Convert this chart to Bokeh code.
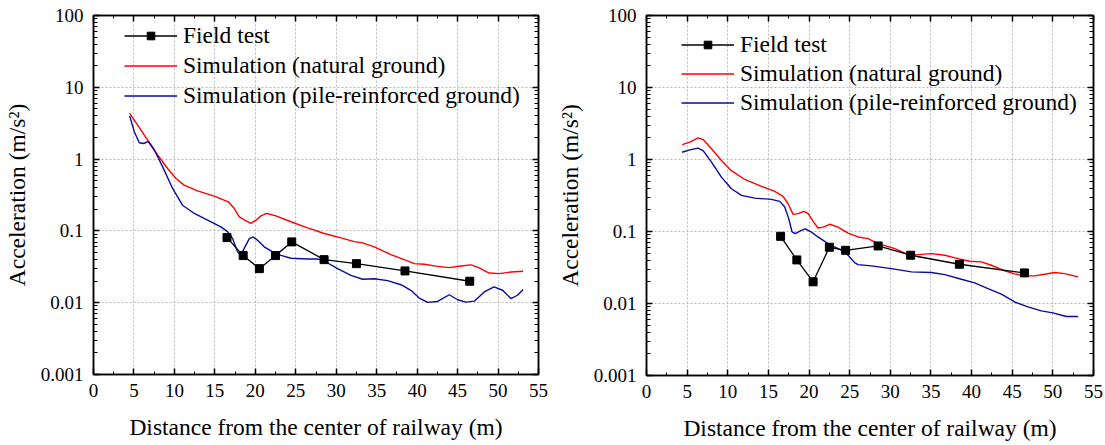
from bokeh.plotting import figure
from bokeh.layouts import row
from bokeh.models import (FixedTicker, LinearAxis, LogAxis, Legend, LegendItem,
                          CustomJSTickFormatter, Range1d)
from bokeh.embed import file_html
from bokeh.resources import INLINE

FONT = "Liberation Serif"

# ---------------- data ----------------
x_ticks = [0, 5, 10, 15, 20, 25, 30, 35, 40, 45, 50, 55]
y_ticks = [0.001, 0.01, 0.1, 1, 10, 100]

field_x = [16.5, 18.5, 20.5, 22.5, 24.5, 28.5, 32.5, 38.5, 46.5]

# left panel
field_left = [0.0807, 0.0453, 0.0298, 0.0453, 0.0703, 0.0398, 0.035, 0.0277, 0.0199]
natural_left_x = [4.47, 5.46, 6.69, 7.93, 9.16, 10.2, 11.2, 12.87, 14.93, 16.66,
                  17.4, 18.02, 18.85, 19.46, 20.08, 20.7, 21.4, 22.55, 24.4, 26.46,
                  28.52, 30.58, 32.23, 33.26, 34.7, 36.76, 38.4, 39.65, 40.88, 42.53,
                  43.97, 45.41, 46.65, 47.67, 48.9, 50.15, 51.6, 53.1]
natural_left_y = [4.34, 2.98, 1.84, 1.14, 0.74, 0.537, 0.434, 0.361, 0.305, 0.254,
                  0.205, 0.157, 0.138, 0.127, 0.141, 0.162, 0.175, 0.162, 0.134, 0.110,
                  0.092, 0.080, 0.071, 0.068, 0.060, 0.0468, 0.0398, 0.035, 0.0343, 0.0321,
                  0.0308, 0.0325, 0.0336, 0.0305, 0.0259, 0.0254, 0.0268, 0.0274]
pile_left_x = [4.47, 5.04, 5.66, 6.2, 6.78, 7.52, 8.55, 9.78, 11.0, 12.46,
               14.1, 15.75, 16.6, 17.2, 17.81, 18.2, 18.72, 19.26, 19.75, 20.28,
               21.1, 22.14, 23.17, 24.4, 26.46, 27.7, 28.73, 30.17, 31.82, 33.26,
               34.7, 36.35, 38.0, 39.23, 40.26, 41.3, 42.53, 43.97, 45.0, 46.03,
               47.06, 48.3, 49.5, 50.56, 51.6, 52.4, 53.1]
pile_left_y = [3.98, 2.41, 1.69, 1.65, 1.76, 1.34, 0.78, 0.39, 0.228, 0.175,
               0.141, 0.114, 0.097, 0.078, 0.051, 0.0457, 0.060, 0.078, 0.0824, 0.074,
               0.060, 0.051, 0.0457, 0.0416, 0.0407, 0.0407, 0.0369, 0.0298, 0.024, 0.0212,
               0.0216, 0.0203, 0.0178, 0.0149, 0.0116, 0.0101, 0.0104, 0.0129, 0.011, 0.0102,
               0.0105, 0.0141, 0.0166, 0.0149, 0.0114, 0.0127, 0.0153]

# right panel
field_right = [0.0857, 0.0403, 0.020, 0.0604, 0.0548, 0.063, 0.0468, 0.0351, 0.0266]
natural_right_x = [4.38, 5.33, 6.35, 6.97, 8.0, 9.22, 10.45, 12.09, 14.14, 15.78,
                   16.8, 17.42, 18.04, 18.65, 19.35, 19.9, 20.5, 21.1, 21.73, 22.55,
                   23.57, 24.8, 26.03, 27.26, 28.49, 30.55, 32.18, 33.4, 35.06, 36.7,
                   38.33, 39.77, 41.2, 42.43, 43.86, 45.3, 46.53, 47.76, 48.99, 50.2,
                   51.45, 53.1]
natural_right_y = [1.61, 1.74, 2.0, 1.89, 1.41, 0.97, 0.70, 0.528, 0.423, 0.36,
                   0.307, 0.243, 0.173, 0.177, 0.19, 0.177, 0.138, 0.112, 0.115, 0.126,
                   0.115, 0.095, 0.084, 0.0796, 0.0678, 0.0578, 0.0477, 0.0477, 0.0493, 0.0468,
                   0.042, 0.0386, 0.0378, 0.034, 0.029, 0.0258, 0.0242, 0.0242, 0.0255, 0.0269,
                   0.026, 0.0234]
pile_right_x = [4.38, 5.33, 6.35, 6.97, 8.0, 9.22, 10.45, 11.68, 13.32, 15.37,
                16.4, 17.01, 17.5, 17.91, 18.3, 19.06, 19.55, 20.29, 21.1, 22.34,
                23.57, 24.4, 25.0, 25.6, 26.03, 27.67, 30.12, 32.6, 35.06, 36.7,
                38.74, 40.38, 42.02, 43.66, 45.3, 46.94, 48.58, 50.0, 51.65, 53.1]
pile_right_y = [1.26, 1.36, 1.44, 1.33, 0.92, 0.569, 0.392, 0.317, 0.291, 0.279,
                0.262, 0.219, 0.151, 0.0985, 0.0933, 0.1037, 0.109, 0.098, 0.084, 0.0678,
                0.0578, 0.052, 0.0443, 0.037, 0.0347, 0.0333, 0.0305, 0.0275, 0.0269, 0.0252,
                0.0217, 0.0193, 0.0161, 0.0135, 0.0105, 0.009, 0.0079, 0.0074, 0.0066, 0.0066]

legend_labels = ["Field test", "Simulation (natural ground)",
                 "Simulation (pile-reinforced ground)"]
x_title = "Distance from the center of railway (m)"
y_title = "Acceleration (m/s\u00b2)"

RED = "#ff0000"
BLUE = "#0a0aa0"

x_minor = [t + 2.5 for t in x_ticks[:-1]]
y_minor = [t * k for t in y_ticks[:-1] for k in range(2, 10)]


def style_axis(ax, ticker, show_labels, minor_len):
    ax.ticker = ticker
    ax.axis_line_color = "black"
    ax.axis_line_width = 1.5
    ax.major_tick_in = 6
    ax.major_tick_out = 0
    ax.minor_tick_in = minor_len
    ax.minor_tick_out = 0
    ax.major_tick_line_color = "black"
    ax.major_tick_line_width = 1.5
    ax.minor_tick_line_color = "black"
    ax.minor_tick_line_width = 1
    if show_labels:
        ax.major_label_text_font = FONT
        ax.major_label_text_font_size = "19px"
        ax.major_label_text_color = "black"
        ax.axis_label_text_font = FONT
        ax.axis_label_text_font_size = "23.5px"
        ax.axis_label_text_font_style = "normal"
        ax.axis_label_text_color = "black"
    else:
        ax.major_label_text_font_size = "1px"
        ax.major_label_text_alpha = 0
        ax.major_label_standoff = 0


def make_panel(nat_x, nat_y, pile_x, pile_y, fld_y, fw, fh, bl, br, bt, bb, lx, ly, lspace):
    p = figure(frame_width=fw, frame_height=fh,
               x_range=Range1d(0, 55), y_range=Range1d(0.001, 100),
               y_axis_type="log", output_backend="svg", toolbar_location=None,
               min_border_left=bl, min_border_right=br, min_border_top=bt,
               min_border_bottom=bb)
    p.background_fill_color = "white"
    p.border_fill_color = "white"
    p.outline_line_color = "black"
    p.outline_line_width = 1.5

    xt = FixedTicker(ticks=x_ticks, minor_ticks=x_minor)
    yt = FixedTicker(ticks=y_ticks, minor_ticks=y_minor)
    yfmt = CustomJSTickFormatter(code="return String(Number(tick.toPrecision(6)));")

    style_axis(p.xaxis[0], xt, True, 3)
    p.xaxis[0].axis_label = x_title
    p.xaxis[0].major_label_standoff = 9
    p.xaxis[0].axis_label_standoff = 14

    style_axis(p.yaxis[0], yt, True, 4)
    p.yaxis[0].formatter = yfmt
    p.yaxis[0].axis_label = y_title
    p.yaxis[0].major_label_standoff = 10
    p.yaxis[0].axis_label_standoff = 8

    top = LinearAxis()
    style_axis(top, FixedTicker(ticks=x_ticks, minor_ticks=x_minor), False, 3)
    p.add_layout(top, "above")
    right = LogAxis()
    style_axis(right, FixedTicker(ticks=y_ticks, minor_ticks=y_minor), False, 4)
    right.formatter = CustomJSTickFormatter(code="return String(Number(tick.toPrecision(6)));")
    p.add_layout(right, "right")

    for g in (p.xgrid[0], p.ygrid[0]):
        g.grid_line_color = "#b8b8b8"
        g.grid_line_dash = "2 2"
        g.grid_line_width = 1
    p.xgrid[0].ticker = xt
    p.ygrid[0].ticker = yt

    r_nat = p.line(nat_x, nat_y, line_color=RED, line_width=1.4)
    r_pile = p.line(pile_x, pile_y, line_color=BLUE, line_width=1.4)
    r_fl = p.line(field_x, fld_y, line_color="black", line_width=1.3)
    r_fs = p.scatter(field_x, fld_y, marker="square", size=8,
                     fill_color="black", line_color="black")

    legend = Legend(items=[LegendItem(label=legend_labels[0], renderers=[r_fl, r_fs]),
                           LegendItem(label=legend_labels[1], renderers=[r_nat]),
                           LegendItem(label=legend_labels[2], renderers=[r_pile])],
                    location=(lx, ly), glyph_width=53, glyph_height=19,
                    label_height=lspace, label_standoff=6, spacing=0, padding=0,
                    margin=0, label_text_font=FONT, label_text_font_size="23.5px",
                    label_text_color="black",
                    background_fill_alpha=0, border_line_alpha=0)
    p.add_layout(legend)
    return p


p1 = make_panel(natural_left_x, natural_left_y, pile_left_x, pile_left_y, field_left,
                445, 359, 92, 15, 15, 71, 31, 264, 30)
p2 = make_panel(natural_right_x, natural_right_y, pile_right_x, pile_right_y, field_right,
                447, 360, 90, 16, 13, 72, 35, 258, 29)

layout = row(p1, p2, spacing=0)
open("out.html", "w").write(file_html(layout, INLINE))
